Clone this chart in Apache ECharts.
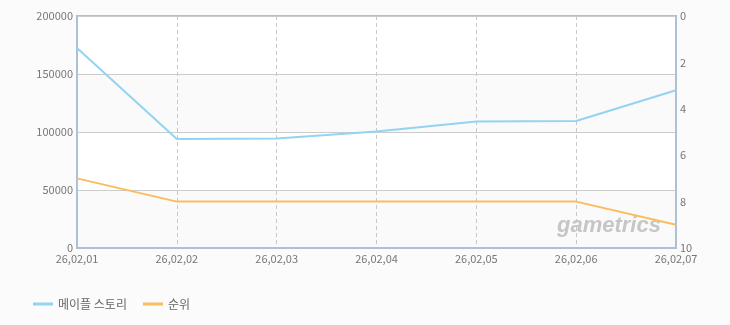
<!DOCTYPE html>
<html><head><meta charset="utf-8">
<script src="https://cdn.jsdelivr.net/npm/echarts@6/dist/echarts.min.js"></script>
<style>html,body{margin:0;padding:0;background:#fbfbfb;}#c{width:730px;height:325px;}</style>
</head><body><div id="c"></div>
<script>
var categories = ['26,02,01','26,02,02','26,02,03','26,02,04','26,02,05','26,02,06','26,02,07'];
var mapleValues = [172500, 94000, 94500, 100500, 109000, 109500, 136000];
var rankValues = [7, 8, 8, 8, 8, 8, 9];
var leftTicks = [0, 50000, 100000, 150000, 200000];
var rightTicks = [0, 2, 4, 6, 8, 10];
var seriesNames = ['메이플 스토리', '순위'];

var font = '"Noto Sans CJK KR", "DejaVu Sans", sans-serif';
var chart = echarts.init(document.getElementById('c'));
chart.setOption({
  backgroundColor: '#fbfbfb',
  animation: false,
  grid: {left: 77, right: 54, top: 16, bottom: 77, show: true, backgroundColor: '#fff', borderColor: '#adc1d6', borderWidth: 2},
  legend: {
    left: 28, top: 293, itemWidth: 20, itemHeight: 3, itemGap: 16,
    icon: 'rect',
    textStyle: {color: '#666', fontSize: 12, fontFamily: font},
    data: seriesNames
  },
  xAxis: {
    type: 'category', data: categories, boundaryGap: false,
    axisLine: {show: true, lineStyle: {color: '#adc1d6', width: 2}},
    axisTick: {show: false},
    axisLabel: {color: '#777', fontSize: 11, fontFamily: font, margin: 5, interval: 0},
    splitLine: {show: true, lineStyle: {color: '#c8c8c8', type: [4, 3], width: 1}}
  },
  yAxis: [{
    type: 'value', min: leftTicks[0], max: leftTicks[leftTicks.length - 1], interval: 50000,
    axisLine: {show: true, lineStyle: {color: '#adc1d6', width: 2}},
    axisTick: {show: false},
    axisLabel: {color: '#777', fontSize: 11, fontFamily: font, margin: 4, formatter: function (v) { return String(v); }},
    splitLine: {show: true, lineStyle: {color: '#cccccc', width: 1}},
    splitArea: {show: true, areaStyle: {color: ['#fafafa', '#ffffff']}}
  }, {
    type: 'value', inverse: true, min: rightTicks[0], max: rightTicks[rightTicks.length - 1], interval: 2,
    position: 'right',
    axisLine: {show: true, lineStyle: {color: '#adc1d6', width: 2}},
    axisTick: {show: false},
    axisLabel: {color: '#777', fontSize: 11, fontFamily: font, margin: 4, formatter: function (v) { return String(v); }},
    splitLine: {show: false}
  }],
  graphic: [{
    type: 'text', left: 557, top: 215, z: 1,
    style: {text: 'gametrics', fill: '#c6c6c6', font: 'italic bold 22px "Liberation Sans", sans-serif'}
  }],
  series: [{
    name: seriesNames[0], type: 'line', yAxisIndex: 0, data: mapleValues,
    showSymbol: false, symbol: 'none', color: '#94d3f2',
    lineStyle: {width: 2, color: '#94d3f2'}, z: 3
  }, {
    name: seriesNames[1], type: 'line', yAxisIndex: 1, data: rankValues,
    showSymbol: false, symbol: 'none', color: '#fbbc5c',
    lineStyle: {width: 2, color: '#fbbc5c'}, z: 3
  }]
});
</script></body></html>
